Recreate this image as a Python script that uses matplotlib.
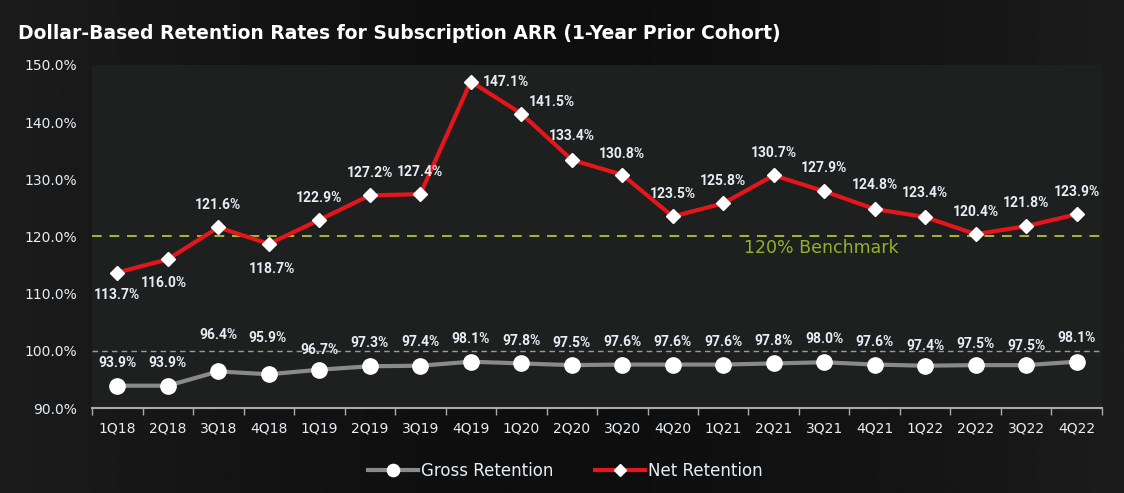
import numpy as np
import matplotlib
matplotlib.use("Agg")
from matplotlib import pyplot as plt

quarters = ['1Q18', '2Q18', '3Q18', '4Q18', '1Q19', '2Q19', '3Q19', '4Q19', '1Q20', '2Q20',
            '3Q20', '4Q20', '1Q21', '2Q21', '3Q21', '4Q21', '1Q22', '2Q22', '3Q22', '4Q22']
gross = [93.9, 93.9, 96.4, 95.9, 96.7, 97.3, 97.4, 98.1, 97.8, 97.5,
         97.6, 97.6, 97.6, 97.8, 98.0, 97.6, 97.4, 97.5, 97.5, 98.1]
net = [113.7, 116.0, 121.6, 118.7, 122.9, 127.2, 127.4, 147.1, 141.5, 133.4,
       130.8, 123.5, 125.8, 130.7, 127.9, 124.8, 123.4, 120.4, 121.8, 123.9]
benchmark = 120.0
yticks = [90, 100, 110, 120, 130, 140, 150]

# label offsets in points (dx, dy)
net_off = [(0, -16), (-3, -17), (0, 16), (2, -18), (0, 16), (0, 16), (0, 16), (25, 0),
           (22, 8), (0, 17), (0, 15), (0, 16), (0, 16), (0, 16), (0, 17), (0, 17),
           (0, 17), (0, 16), (0, 17), (0, 16)]
gross_off = [(0, 16), (0, 16), (0, 26), (-1, 26), (0, 14), (0, 17), (0, 17), (0, 16),
             (0, 16), (0, 16), (0, 16), (0, 16), (0, 16), (0, 16), (0, 17), (0, 16),
             (0, 14), (0, 15), (0, 14), (0, 17)]

txt = '#e6eef5'
fig = plt.figure(figsize=(11.24, 4.93), dpi=100, facecolor='#151515')

# background: darker in the middle, lighter towards the edges
bg = fig.add_axes([0, 0, 1, 1], zorder=-10)
u = np.linspace(-1, 1, 400)
g = 0.055 + 0.055 * np.abs(u) ** 1.5
bg.imshow(np.tile(g, (10, 1)), cmap='gray', vmin=0, vmax=1, aspect='auto',
          extent=[0, 1, 0, 1], interpolation='bilinear')
bg.axis('off')

ax = fig.add_axes([0.0819, 0.1724, 0.8985, 0.6958])
ax.set_facecolor('#1e1f1f')
x = np.arange(len(quarters))

ax.axhline(100, color='#9a9a9a', lw=1, ls=(0, (4, 3)), zorder=1)
ax.axhline(benchmark, color='#a8b832', lw=1.4, ls=(0, (5, 4)), zorder=1)
ax.text(13.95, benchmark - 0.4, '120% Benchmark', color='#97b02a', fontsize=12.5,
        ha='center', va='top')

ax.plot(x, gross, color='#8a8a8a', lw=3, marker='o', ms=11, mfc='white', mec='white',
        label='Gross Retention', zorder=3)
ax.plot(x, net, color='#e3161b', lw=3, marker='D', ms=7.5, mfc='white', mec='white',
        label='Net Retention', zorder=3)

for i in range(len(x)):
    ax.annotate(f'{net[i]:.1f}%', (x[i], net[i]), xytext=net_off[i], textcoords='offset points',
                ha='center', va='center', color=txt, fontsize=10, fontweight='bold',
                family='Roboto')
    ax.annotate(f'{gross[i]:.1f}%', (x[i], gross[i]), xytext=gross_off[i], textcoords='offset points',
                ha='center', va='center', color=txt, fontsize=10, fontweight='bold',
                family='Roboto')

ax.set_xlim(-0.5, len(quarters) - 0.5)
ax.set_ylim(90, 150)
ax.set_yticks(yticks)
ax.set_yticklabels([f'{v:.1f}%' for v in yticks])
ax.set_xticks(x)
ax.set_xticklabels(quarters)
ax.set_xticks(np.arange(-0.5, len(quarters)), minor=True)
ax.tick_params(axis='x', which='major', length=0, pad=10, colors=txt, labelsize=10)
ax.tick_params(axis='x', which='minor', length=5, color='#aaaaaa', width=1)
ax.tick_params(axis='y', length=0, pad=11, colors=txt, labelsize=10)
for s in ['top', 'right', 'left']:
    ax.spines[s].set_visible(False)
ax.spines['bottom'].set_color('#aaaaaa')
ax.spines['bottom'].set_linewidth(1.5)

fig.text(0.016, 0.933, 'Dollar-Based Retention Rates for Subscription ARR (1-Year Prior Cohort)',
         color='white', fontsize=13.5, fontweight='bold', va='center')

leg = fig.legend(loc='center', bbox_to_anchor=(0.503, 0.045), ncol=2, frameon=False,
                 fontsize=12, labelcolor=txt, handlelength=3, columnspacing=2.5,
                 handletextpad=0.2, markerscale=0.8)

fig.savefig('out.png', dpi=100, facecolor=fig.get_facecolor())
